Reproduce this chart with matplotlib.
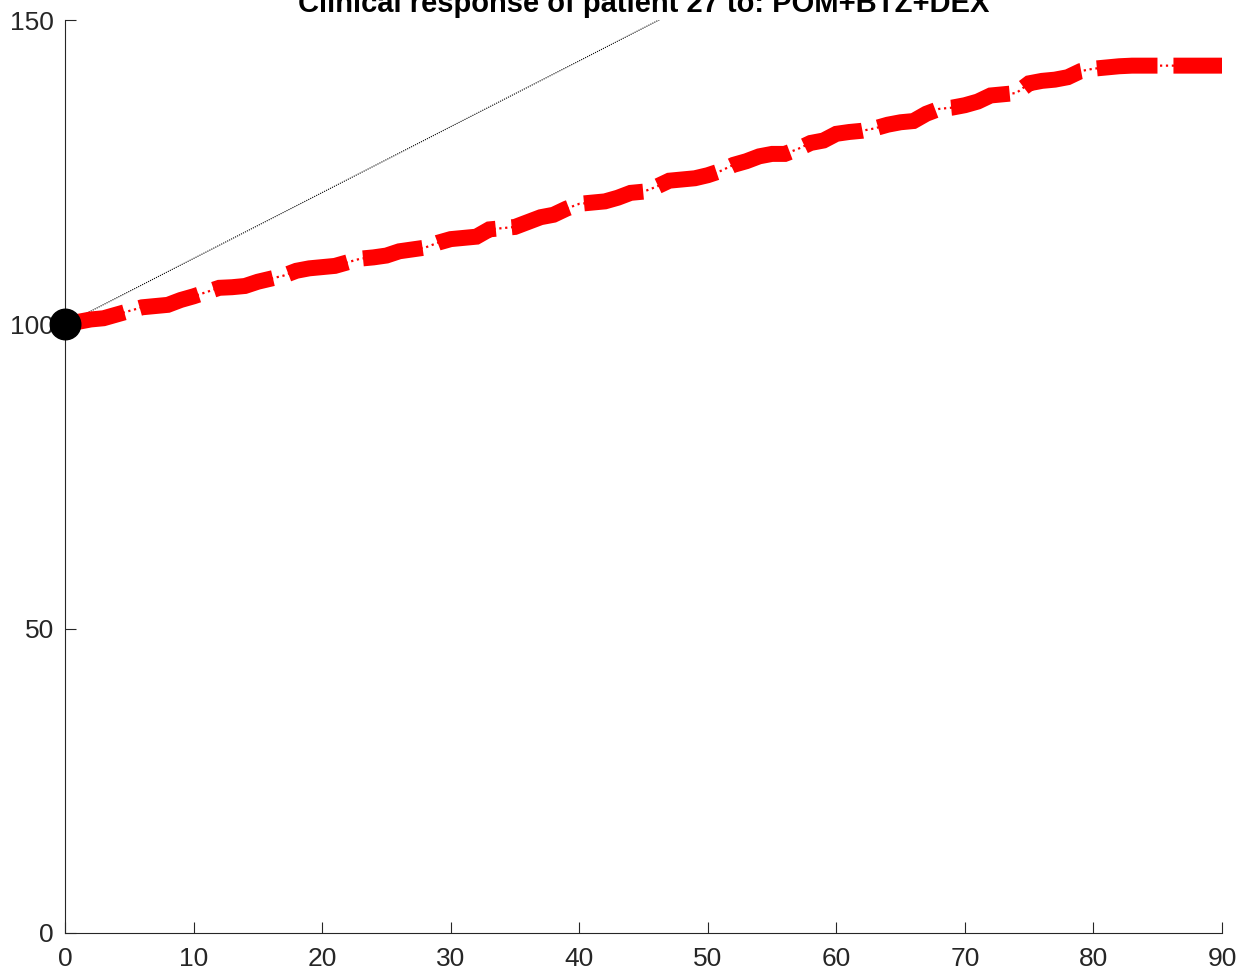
import numpy as np
import matplotlib
matplotlib.use('Agg')
import matplotlib.pyplot as plt

# tumour burden (% of baseline) per day
days = list(range(0, 91))
burden = [100.0, 100.4, 100.8, 101.0, 101.6, 102.2, 102.8, 103.0, 103.2, 104.0,
          104.6, 105.3, 106.0, 106.1, 106.3, 107.0, 107.5, 108.0, 108.8, 109.2,
          109.4, 109.6, 110.2, 110.8, 111.0, 111.3, 112.0, 112.3, 112.6, 113.4,
          114.0, 114.2, 114.4, 115.6, 115.8, 116.0, 116.8, 117.6, 118.0, 119.0,
          119.8, 120.0, 120.2, 120.8, 121.6, 121.8, 122.6, 123.6, 123.8, 124.0,
          124.5, 125.2, 126.2, 126.8, 127.6, 128.0, 128.0, 128.8, 129.8, 130.2,
          131.3, 131.6, 131.8, 132.2, 132.8, 133.2, 133.4, 134.6, 135.4, 135.6,
          136.0, 136.6, 137.6, 137.8, 138.0, 139.6, 140.0, 140.2, 140.6, 141.6,
          142.0, 142.2, 142.4, 142.5, 142.5, 142.5, 142.5, 142.5, 142.5, 142.5,
          142.5]

# reference line (progression threshold)
ref_days = [0, 90]
ref_vals = [100, 197.4]

start_day = [0]
start_val = [100]

titulo = 'Clinical response of patient 27 to: POM+BTZ+DEX'

plt.rcParams['font.family'] = ['Liberation Sans', 'DejaVu Sans']

fig = plt.figure(figsize=(12.52, 9.74), dpi=100)
ax = fig.add_axes([65/1252, 41/974, 1157/1252, 913/974])

cinza = '#262626'

ax.plot(ref_days, ref_vals, color='black', lw=0.8, ls=(0, (1, 1)))
ax.plot(days, burden, color='red', lw=1.6, ls=':')
ax.plot(days, burden, color='red', lw=11.5, ls=(0, (3.8, 1.0)),
        solid_joinstyle='miter', dash_joinstyle='miter')
ax.plot(start_day, start_val, 'o', color='black', ms=22, clip_on=False, zorder=5)

ax.set_xlim(0, 90)
ax.set_ylim(0, 150)
ax.set_xticks(range(0, 91, 10))
ax.set_yticks([0, 50, 100, 150])

for lado in ['top', 'right']:
    ax.spines[lado].set_visible(False)
for lado in ['left', 'bottom']:
    ax.spines[lado].set_color(cinza)
    ax.spines[lado].set_linewidth(0.8)

ax.tick_params(direction='in', length=8, width=0.8, colors=cinza, labelsize=19)
ax.tick_params(axis='x', pad=10)
ax.tick_params(axis='y', pad=8)

ax.set_title(titulo, fontsize=21, fontweight='bold', pad=6)

fig.savefig('out.png', dpi=100)
